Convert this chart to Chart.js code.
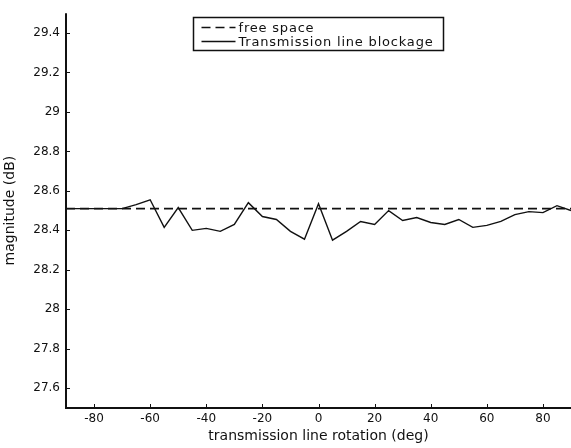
<!DOCTYPE html>
<html>
<head>
<meta charset="utf-8">
<script src="https://cdn.jsdelivr.net/npm/chart.js@4/dist/chart.umd.min.js"></script>
<style>
  html, body { margin: 0; padding: 0; background: #fff; }
  #wrap { width: 571px; height: 448px; }
</style>
</head>
<body>
<div id="wrap"><canvas id="magChart"></canvas></div>
<script>
// rotation angles (deg), sampled every 5 degrees
const angles = [-90, -85, -80, -75, -70, -65, -60, -55, -50, -45, -40, -35, -30, -25, -20, -15, -10, -5,
  0, 5, 10, 15, 20, 25, 30, 35, 40, 45, 50, 55, 60, 65, 70, 75, 80, 85, 90];

// magnitude with the transmission line in place (dB)
const blockage = [28.51, 28.51, 28.51, 28.51, 28.51, 28.53, 28.555, 28.415, 28.515, 28.40, 28.41, 28.395,
  28.43, 28.54, 28.47, 28.455, 28.395, 28.355, 28.535, 28.35, 28.395, 28.445, 28.43, 28.50, 28.45,
  28.465, 28.44, 28.43, 28.455, 28.415, 28.425, 28.445, 28.48, 28.495, 28.49, 28.525, 28.50];

// free space reference (dB)
const freeSpace = angles.map(() => 28.51);

const xTicks = [-80, -60, -40, -20, 0, 20, 40, 60, 80];
const yTicks = [27.6, 27.8, 28, 28.2, 28.4, 28.6, 28.8, 29, 29.2, 29.4];

const seriesLabels = ['free space', 'Transmission line blockage'];

const FONT = 'DejaVu Sans';
const INK = '#111';

// MATLAB-like inner ticks, axis lines and the boxed legend
const matlabAxes = {
  id: 'matlabAxes',
  afterDraw(chart) {
    const c = chart.ctx;
    const area = chart.chartArea;
    const xs = chart.scales.x, ys = chart.scales.y;
    c.save();
    c.strokeStyle = INK;
    c.lineWidth = 1;
    xTicks.forEach(v => {
      const px = Math.round(xs.getPixelForValue(v)) + 0.5;
      c.beginPath(); c.moveTo(px, area.bottom); c.lineTo(px, area.bottom - 4); c.stroke();
    });
    yTicks.forEach(v => {
      const py = Math.round(ys.getPixelForValue(v)) + 0.5;
      c.beginPath(); c.moveTo(area.left, py); c.lineTo(area.left + 4, py); c.stroke();
    });
    // axis lines
    c.lineWidth = 2;
    c.beginPath();
    c.moveTo(area.left, area.top);
    c.lineTo(area.left, area.bottom);
    c.lineTo(area.right, area.bottom);
    c.stroke();

    // legend box
    const bx = 193.5, by = 17.5, bw = 250, bh = 33;
    c.fillStyle = '#fff';
    c.fillRect(bx, by, bw, bh);
    c.lineWidth = 1.5;
    c.strokeRect(bx, by, bw, bh);
    c.font = '13px "' + FONT + '"';
    c.letterSpacing = '0.8px';
    c.fillStyle = INK;
    c.textBaseline = 'middle';
    chart.data.datasets.forEach((ds, i) => {
      const ly = by + 10 + i * 14;
      c.beginPath();
      c.setLineDash(ds.borderDash || []);
      c.lineWidth = 1.3;
      c.moveTo(bx + 8, ly); c.lineTo(bx + 42, ly);
      c.stroke();
      c.setLineDash([]);
      c.fillText(ds.label, bx + 45, ly + 1);
    });
    c.restore();
  }
};

new Chart(document.getElementById('magChart'), {
  type: 'line',
  data: {
    labels: angles,
    datasets: [
      {
        label: seriesLabels[0],
        data: angles.map((a, i) => ({ x: a, y: freeSpace[i] })),
        borderColor: INK,
        borderWidth: 1.6,
        borderDash: [9, 5],
        pointRadius: 0,
        fill: false
      },
      {
        label: seriesLabels[1],
        data: angles.map((a, i) => ({ x: a, y: blockage[i] })),
        borderColor: INK,
        borderWidth: 1.4,
        pointRadius: 0,
        tension: 0,
        fill: false
      }
    ]
  },
  options: {
    responsive: true,
    maintainAspectRatio: false,
    animation: false,
    layout: { padding: { top: 10, right: 0, left: 0, bottom: 0 } },
    plugins: {
      legend: { display: false },
      tooltip: { enabled: false }
    },
    scales: {
      x: {
        type: 'linear',
        min: -90,
        max: 90,
        afterBuildTicks: s => { s.ticks = xTicks.map(v => ({ value: v })); },
        afterFit: s => { s.height = 40; },
        grid: { display: false, drawTicks: false },
        border: { display: false },
        ticks: {
          color: INK,
          padding: 4,
          maxRotation: 0,
          font: { family: FONT, size: 12 }
        },
        title: {
          display: true,
          text: 'transmission line rotation (deg)',
          color: INK,
          padding: { top: 0, bottom: 3 },
          font: { family: FONT, size: 14 }
        }
      },
      y: {
        min: 27.5,
        max: 29.5,
        afterBuildTicks: s => { s.ticks = yTicks.map(v => ({ value: v })); },
        afterFit: s => { s.width = 66; },
        grid: { display: false, drawTicks: false },
        border: { display: false },
        ticks: {
          color: INK,
          padding: 6,
          font: { family: FONT, size: 12 },
          callback: v => String(Math.round(v * 10) / 10)
        },
        title: {
          display: true,
          text: 'magnitude (dB)',
          color: INK,
          padding: { top: 2, bottom: 0 },
          font: { family: FONT, size: 14 }
        }
      }
    }
  },
  plugins: [matlabAxes]
});
</script>
</body>
</html>
